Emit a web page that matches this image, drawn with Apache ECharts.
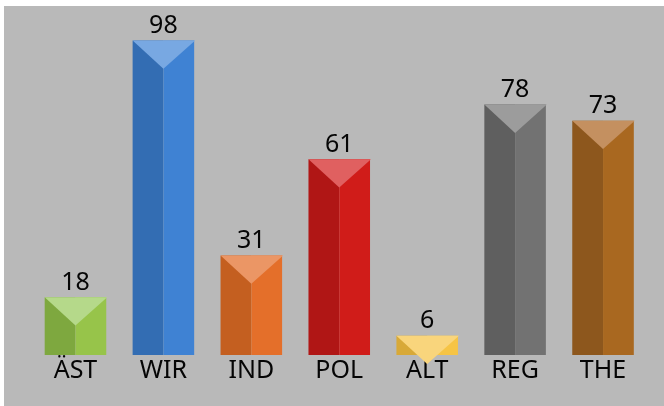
<!DOCTYPE html>
<html>
<head>
<meta charset="utf-8">
<script src="https://cdn.jsdelivr.net/npm/echarts@6/dist/echarts.min.js"></script>
<style>
html,body{margin:0;padding:0;background:#ffffff;}
#chart{width:664px;height:406px;}
</style>
</head>
<body>
<div id="chart"></div>
<script>
const categories = ['ÄST', 'WIR', 'IND', 'POL', 'ALT', 'REG', 'THE'];
const values = [18, 98, 31, 61, 6, 78, 73];
const darkColors  = ['#7ea83f', '#336db3', '#c45f20', '#b01615', '#d8a938', '#5f5f5f', '#8d571d'];
const lightColors = ['#97c44a', '#3f82d3', '#e46f2a', '#d01c19', '#f6c445', '#727272', '#a96820'];
const topColors   = ['#b5d98a', '#78a8e2', '#eb9665', '#e06060', '#f9d57c', '#9c9c9c', '#c49060'];

const chart = echarts.init(document.getElementById('chart'), null, {renderer: 'canvas'});

function renderItem(params, api) {
  const idx = api.value(0);
  const val = api.value(1);
  const top = api.coord([idx, val]);
  const base = api.coord([idx, 0]);
  const w = api.size([1, 0])[0] * 0.7;
  const xc = top[0];
  const x0 = xc - w / 2;
  const x1 = xc + w / 2;
  const yt = top[1];
  const yb = base[1];
  const d = w * 0.46;
  const i = params.dataIndex;
  return {
    type: 'group',
    children: [
      {type: 'rect', shape: {x: x0, y: yt, width: w / 2, height: yb - yt}, style: {fill: darkColors[i]}},
      {type: 'rect', shape: {x: xc, y: yt, width: w / 2, height: yb - yt}, style: {fill: lightColors[i]}},
      {type: 'polygon', shape: {points: [[x0, yt], [x1 + 1, yt], [xc, yt + d]]}, style: {fill: topColors[i]}},
      {type: 'text', style: {text: String(val), x: xc, y: yt - 2, textAlign: 'center', textVerticalAlign: 'bottom',
        fill: '#050505', font: '25px "Noto Sans"'}}
    ]
  };
}

chart.setOption({
  backgroundColor: 'transparent',
  animation: false,
  graphic: [{type: 'rect', z: -10, shape: {x: 4, y: 6, width: 660, height: 400}, style: {fill: '#b9b9b9'}}],
  grid: {left: 31.5, right: 17, top: 34, bottom: 51},
  xAxis: {
    type: 'category',
    data: categories,
    axisLine: {show: false},
    axisTick: {show: false},
    axisLabel: {color: '#050505', fontSize: 25, fontFamily: 'Noto Sans', margin: 3}
  },
  yAxis: {type: 'value', min: 0, max: 100, show: false, splitLine: {show: false}},
  series: [{
    type: 'custom',
    renderItem: renderItem,
    data: values.map((v, i) => [i, v]),
    encode: {x: 0, y: 1}
  }]
});
</script>
</body>
</html>
